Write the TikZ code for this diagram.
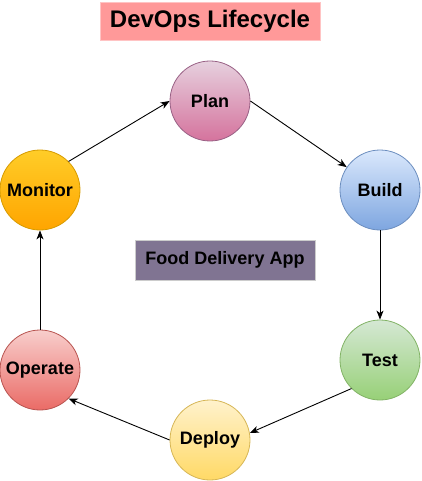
\documentclass[tikz,border=0pt]{standalone}
\usepackage{fontspec}
\setmainfont{Liberation Sans}
\usetikzlibrary{arrows.meta}
\definecolor{plantop}{HTML}{E6D0DE}\definecolor{planbot}{HTML}{D5739D}\definecolor{planline}{HTML}{996185}
\definecolor{buildtop}{HTML}{DAE8FC}\definecolor{buildbot}{HTML}{7EA6E0}\definecolor{buildline}{HTML}{6C8EBF}
\definecolor{testtop}{HTML}{D5E8D4}\definecolor{testbot}{HTML}{97D077}\definecolor{testline}{HTML}{82B366}
\definecolor{deploytop}{HTML}{FFF2CC}\definecolor{deploybot}{HTML}{FFD966}\definecolor{deployline}{HTML}{D6B656}
\definecolor{operatetop}{HTML}{F8CECC}\definecolor{operatebot}{HTML}{EA6B66}\definecolor{operateline}{HTML}{B85450}
\definecolor{monitortop}{HTML}{FFCD28}\definecolor{monitorbot}{HTML}{FFA500}\definecolor{monitorline}{HTML}{D79B00}
\definecolor{titlefill}{HTML}{FF9999}\definecolor{titleline}{HTML}{FFC4C4}
\definecolor{appfill}{RGB}{128,116,146}\definecolor{appline}{HTML}{CCCCCC}
\tikzset{
  stage/.style={circle, minimum size=80pt, inner sep=0pt, line width=0.8pt,
    font=\fontsize{18pt}{20pt}\selectfont\bfseries},
  flow/.style={line width=0.9pt, -{Stealth[length=9pt,width=7pt,inset=2.5pt]}},
}
\begin{document}
\begin{tikzpicture}[x=1pt,y=-1pt]
\useasboundingbox (0,0) rectangle (421,481);
\node[draw=titleline, fill=titlefill, line width=0.8pt, minimum width=220pt, minimum height=38pt, inner sep=0pt,
  font=\fontsize{24pt}{28pt}\selectfont\bfseries] (title) at (210,21) {DevOps Lifecycle};
\node[draw=appline, fill=appfill, line width=0.8pt, minimum width=180pt, minimum height=40pt, inner sep=0pt,
  font=\fontsize{18pt}{20pt}\selectfont\bfseries] (app) at (225,260) {Food Delivery App};
\node[stage, draw=planline, top color=plantop, bottom color=planbot] (plan) at (210,101) {Plan};
\node[stage, draw=buildline, top color=buildtop, bottom color=buildbot] (build) at (380,190) {Build};
\node[stage, draw=testline, top color=testtop, bottom color=testbot] (test) at (380,360) {Test};
\node[stage, draw=deployline, top color=deploytop, bottom color=deploybot] (deploy) at (210,440) {Deploy};
\node[stage, draw=operateline, top color=operatetop, bottom color=operatebot] (operate) at (40,370) {Operate};
\node[stage, draw=monitorline, top color=monitortop, bottom color=monitorbot] (monitor) at (40,190) {Monitor};
\draw[flow] (plan.east) -- (build);
\draw[flow] (build.south) -- (test.north);
\draw[flow] (test.225) -- (deploy.10);
\draw[flow] (deploy.west) -- (operate.-45);
\draw[flow] (operate.north) -- (monitor.south);
\draw[flow] (monitor.45) -- (plan.west);
\end{tikzpicture}
\end{document}
